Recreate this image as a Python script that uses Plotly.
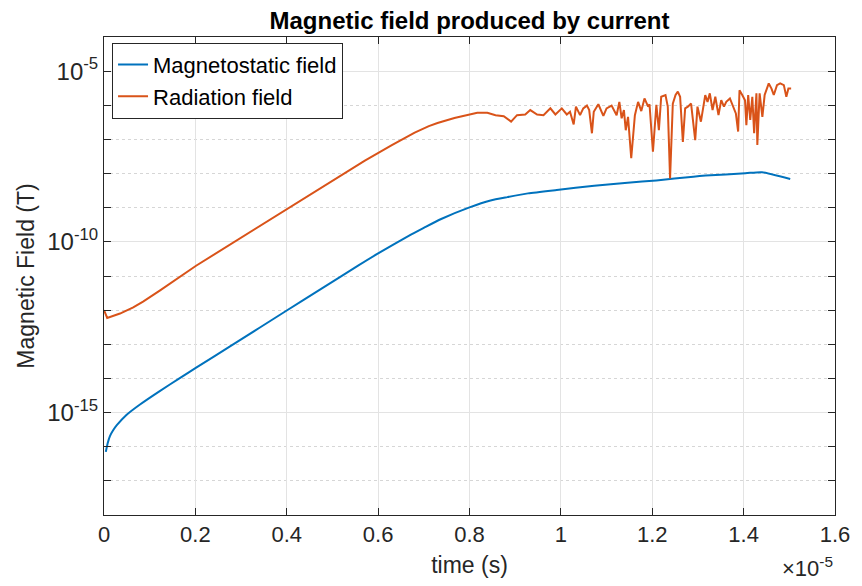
import plotly.graph_objects as go

# time in units of 1e-5 s, field as log10(B / T)
t_static = [0.004, 0.008, 0.013, 0.020, 0.028, 0.049, 0.078, 0.122, 0.165, 0.2, 0.281,
            0.4, 0.477, 0.557, 0.6, 0.665, 0.7, 0.738, 0.8, 0.846, 0.883, 0.928, 0.991,
            1.073, 1.146, 1.209, 1.29, 1.317, 1.404, 1.44, 1.502]
logB_static = [-16.15, -15.90, -15.69, -15.52, -15.37, -15.07, -14.77, -14.37, -14.00, -13.70, -13.02,
               -12.01, -11.36, -10.69, -10.34, -9.84, -9.59, -9.33, -8.99, -8.79, -8.69, -8.58, -8.48,
               -8.36, -8.27, -8.20, -8.09, -8.06, -7.99, -7.96, -8.16]

t_rad = [0.000, 0.007, 0.035, 0.064, 0.0855, 0.122, 0.2015, 0.3, 0.4, 0.5, 0.571, 0.63, 0.68,
         0.711, 0.730, 0.767, 0.8, 0.817, 0.839, 0.857, 0.875, 0.891, 0.904, 0.922, 0.933,
         0.948, 0.962, 0.977, 0.988, 1.002, 1.013, 1.020, 1.028, 1.033, 1.042, 1.049, 1.057,
         1.062, 1.068, 1.072, 1.082, 1.093, 1.100, 1.111, 1.122, 1.128, 1.133, 1.138, 1.142,
         1.147, 1.154, 1.162, 1.169, 1.176, 1.183, 1.191, 1.194, 1.2015, 1.209, 1.2145, 1.2196,
         1.229, 1.234, 1.239, 1.245, 1.251, 1.256, 1.261, 1.267, 1.272, 1.278, 1.285, 1.294,
         1.299, 1.3065, 1.316, 1.321, 1.326, 1.332, 1.338, 1.345, 1.351, 1.357, 1.362, 1.370,
         1.377, 1.383, 1.388, 1.391, 1.397, 1.403, 1.406, 1.410, 1.4145, 1.419, 1.423, 1.428,
         1.430, 1.435, 1.441, 1.446, 1.455, 1.461, 1.466, 1.473, 1.480, 1.488, 1.4935, 1.498, 1.504]
logB_rad = [-12.00, -12.23, -12.10, -11.92, -11.75, -11.43, -10.70, -9.88, -9.05, -8.22, -7.62, -7.17, -6.80,
            -6.61, -6.52, -6.37, -6.27, -6.22, -6.22, -6.29, -6.32, -6.48, -6.29, -6.27, -6.14,
            -6.27, -6.29, -6.09, -6.27, -6.09, -6.27, -6.19, -6.56, -6.04, -6.29, -6.09, -6.01,
            -6.14, -6.82, -6.19, -5.97, -6.31, -6.09, -6.01, -6.29, -5.90, -6.38, -6.14, -6.73,
            -6.34, -7.55, -6.29, -5.90, -6.17, -5.80, -6.04, -5.97, -7.36, -5.99, -6.73, -5.75,
            -5.70, -6.04, -8.14, -5.95, -5.70, -5.60, -5.75, -7.07, -6.09, -6.04, -5.95, -7.02,
            -6.04, -6.48, -5.70, -5.90, -5.65, -6.14, -5.75, -6.29, -5.85, -6.04, -5.90, -5.80,
            -6.04, -6.24, -6.77, -5.56, -5.70, -5.85, -6.58, -5.70, -6.43, -5.75, -6.82, -5.65,
            -7.16, -5.65, -6.34, -5.70, -5.36, -5.51, -5.70, -5.41, -5.36, -5.41, -5.75, -5.51, -5.51]

x_ticks = [0, 0.2, 0.4, 0.6, 0.8, 1, 1.2, 1.4, 1.6]
y_major_exp = [-15, -10, -5]
y_minor_exp = list(range(-18, -3))

FONT = "Liberation Sans, Arial, sans-serif"
AX = "#262626"

fig = go.Figure()
fig.add_trace(go.Scatter(x=t_static, y=[10 ** v for v in logB_static], mode="lines",
                         name="Magnetostatic field",
                         line=dict(color="#0072BD", width=2, shape="spline", smoothing=0.6)))
fig.add_trace(go.Scatter(x=t_rad, y=[10 ** v for v in logB_rad], mode="lines",
                         name="Radiation field", line=dict(color="#D95319", width=2)))

fig.update_layout(
    width=862, height=586,
    margin=dict(l=104, r=22, t=37, b=69),
    paper_bgcolor="white", plot_bgcolor="white",
    font=dict(family=FONT, color=AX, size=22),
    title=dict(text="<b>Magnetic field produced by current</b>", x=0.5, xref="paper",
               y=1 - 21 / 586, yref="container", yanchor="middle",
               font=dict(family=FONT, size=24, color="black")),
    showlegend=True,
    legend=dict(x=0.011, y=0.988, xanchor="left", yanchor="top",
                bgcolor="white", bordercolor=AX, borderwidth=1,
                font=dict(family=FONT, size=22, color="black"),
                itemwidth=30, tracegroupgap=0),
)

fig.update_xaxes(
    range=[0, 1.6], tickvals=x_ticks, ticktext=[("%g" % v) for v in x_ticks],
    showline=True, linecolor=AX, linewidth=1, mirror="allticks",
    ticks="inside", ticklen=7, tickcolor=AX,
    showgrid=True, gridcolor="#e3e3e3", gridwidth=1, zeroline=False,
    tickfont=dict(size=22, color=AX),
    title=dict(text="time (s)", font=dict(size=23, color=AX), standoff=10),
)

fig.update_yaxes(
    type="log", range=[-18, -4],
    tickvals=[10 ** e for e in y_major_exp],
    ticktext=["10<sup>%d</sup>" % e for e in y_major_exp],
    showline=True, linecolor=AX, linewidth=1, mirror="allticks",
    ticks="inside", ticklen=7, tickcolor=AX,
    showgrid=True, gridcolor="#e3e3e3", gridwidth=1, zeroline=False,
    tickfont=dict(size=24, color=AX),
    minor=dict(tickvals=[10 ** e for e in y_minor_exp], ticks="inside", ticklen=7,
               tickcolor=AX, showgrid=True, gridcolor="#d6d6d6", griddash="dot", gridwidth=1),
    title=dict(text="Magnetic Field (T)", font=dict(size=23, color=AX), standoff=6),
)

fig.add_annotation(text="\u00d710<sup>-5</sup>", xref="paper", yref="paper",
                   x=1.0, y=-0.108, xanchor="right", yanchor="middle", showarrow=False,
                   font=dict(family=FONT, size=22, color=AX))

fig.write_html("out.html")
